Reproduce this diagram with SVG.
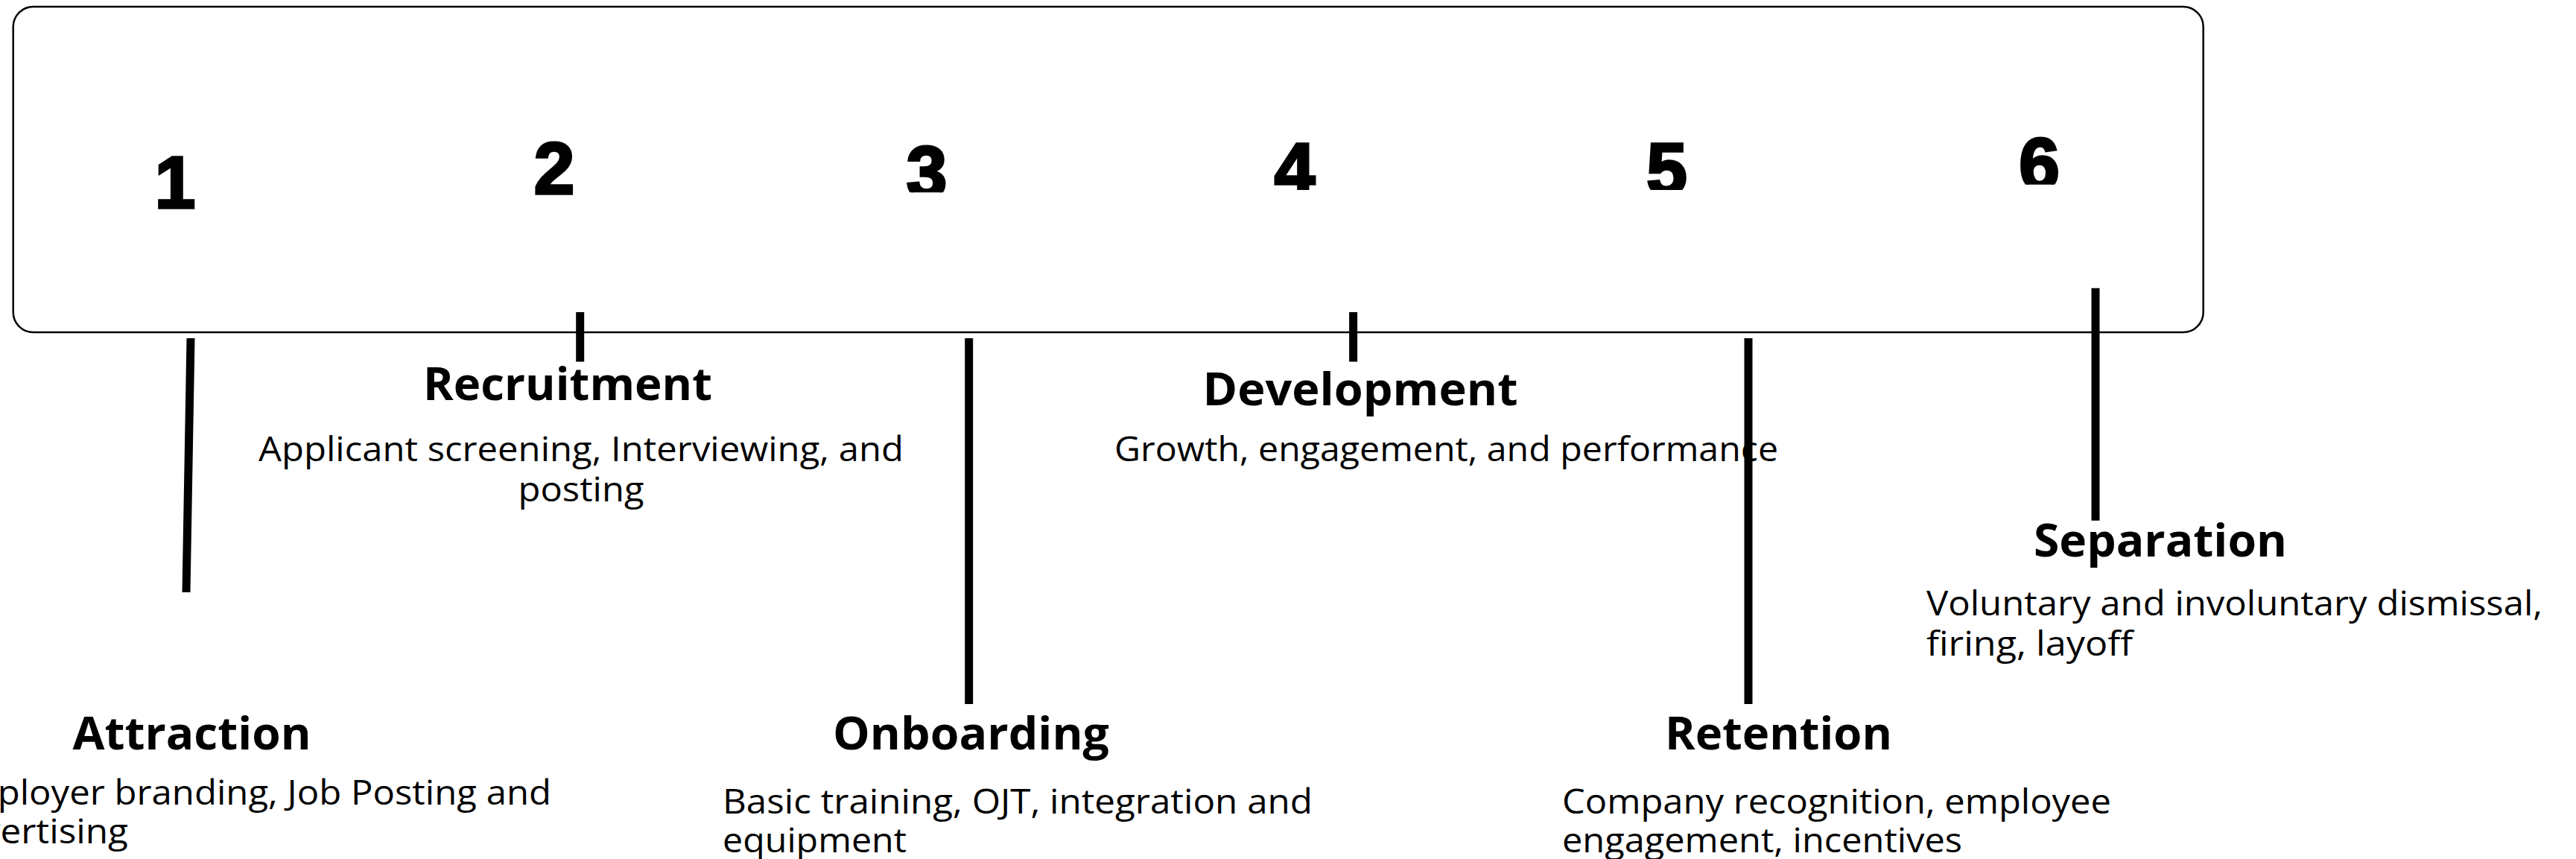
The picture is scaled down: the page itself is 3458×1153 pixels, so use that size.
<svg xmlns="http://www.w3.org/2000/svg" width="3458" height="1153" viewBox="0 0 3458 1153">
  <style>
    .frame { fill: #ffffff; stroke: #000000; stroke-width: 2.5; }
    .num { font-family: "Liberation Sans", Arial, sans-serif; font-weight: 700; font-size: 98px; fill: #000000; stroke: #000000; stroke-width: 3.5; stroke-linejoin: miter; text-anchor: middle; }
    .title { font-family: "Open Sans", "Liberation Sans", sans-serif; font-weight: 700; font-size: 61px; fill: #000000; text-anchor: middle; }
    .desc { font-family: "Open Sans", "Liberation Sans", sans-serif; font-weight: 400; font-size: 45px; fill: #000000; }
    .mid { text-anchor: middle; }
    .tick { stroke: #000000; stroke-width: 11; fill: none; }
  </style>
  <defs>
    <!-- the lower part of some figures is trimmed by their text boxes -->
    <clipPath id="clip-3"><rect x="1180" y="150" width="120" height="108.3"/></clipPath>
    <clipPath id="clip-4"><rect x="1680" y="150" width="120" height="105"/></clipPath>
    <clipPath id="clip-5"><rect x="2180" y="150" width="120" height="105"/></clipPath>
    <clipPath id="clip-6"><rect x="2680" y="150" width="120" height="97.7"/></clipPath>
  </defs>
  <rect width="3458" height="1153" fill="#ffffff"/>

  <!-- timeline band with step numbers -->
  <g id="timeline">
    <rect class="frame" x="17.7" y="9" width="2940" height="437" rx="27" ry="27"/>
    <text id="num-1" class="num" x="235" y="278.5">1</text>
    <text id="num-2" class="num" x="744" y="260.2">2</text>
    <text id="num-3" class="num" x="1244" y="264.5" clip-path="url(#clip-3)">3</text>
    <text id="num-4" class="num" x="1738" y="260.5" clip-path="url(#clip-4)">4</text>
    <text id="num-5" class="num" x="2237.5" y="260.5" clip-path="url(#clip-5)">5</text>
    <text id="num-6" class="num" x="2737.5" y="253.5" clip-path="url(#clip-6)">6</text>
  </g>

  <!-- leader lines from the band to each stage -->
  <g id="connectors">
    <line class="tick" x1="256" y1="454" x2="250" y2="795"/>
    <line class="tick" x1="778.7" y1="419" x2="778.7" y2="485.5"/>
    <line class="tick" x1="1300.7" y1="454" x2="1300.7" y2="945"/>
    <line class="tick" x1="1816.6" y1="419" x2="1816.6" y2="485.5"/>
    <line class="tick" x1="2347" y1="454" x2="2347" y2="945"/>
    <line class="tick" x1="2813" y1="386.7" x2="2813" y2="698.7"/>
  </g>

  <g id="stage-attraction">
    <text class="title" x="257.5" y="1006" textLength="320" lengthAdjust="spacingAndGlyphs">Attraction</text>
    <text class="desc" x="-76" y="1080" textLength="816" lengthAdjust="spacingAndGlyphs">Employer branding, Job Posting and</text>
    <text class="desc" x="-82" y="1132" textLength="254" lengthAdjust="spacingAndGlyphs">advertising</text>
  </g>

  <g id="stage-recruitment">
    <text class="title" x="762" y="537" textLength="388" lengthAdjust="spacingAndGlyphs">Recruitment</text>
    <text class="desc mid" x="780" y="619" textLength="866" lengthAdjust="spacingAndGlyphs">Applicant screening, Interviewing, and</text>
    <text class="desc mid" x="780" y="673" textLength="169" lengthAdjust="spacingAndGlyphs">posting</text>
  </g>

  <g id="stage-onboarding">
    <text class="title" x="1303.5" y="1006" textLength="371" lengthAdjust="spacingAndGlyphs">Onboarding</text>
    <text class="desc" x="970" y="1092" textLength="792" lengthAdjust="spacingAndGlyphs">Basic training, OJT, integration and</text>
    <text class="desc" x="970" y="1144" textLength="247" lengthAdjust="spacingAndGlyphs">equipment</text>
  </g>

  <g id="stage-development">
    <text class="title" x="1826" y="544" textLength="423" lengthAdjust="spacingAndGlyphs">Development</text>
    <text class="desc" x="1496" y="619" textLength="891" lengthAdjust="spacingAndGlyphs">Growth, engagement, and performance</text>
  </g>

  <g id="stage-retention">
    <text class="title" x="2387.5" y="1006" textLength="305" lengthAdjust="spacingAndGlyphs">Retention</text>
    <text class="desc" x="2097" y="1092" textLength="737" lengthAdjust="spacingAndGlyphs">Company recognition, employee</text>
    <text class="desc" x="2097" y="1144" textLength="537" lengthAdjust="spacingAndGlyphs">engagement, incentives</text>
  </g>

  <g id="stage-separation">
    <text class="title" x="2900" y="747" textLength="340" lengthAdjust="spacingAndGlyphs">Separation</text>
    <text class="desc" x="2586" y="825.5" textLength="827" lengthAdjust="spacingAndGlyphs">Voluntary and involuntary dismissal,</text>
    <text class="desc" x="2586" y="879.5" textLength="277" lengthAdjust="spacingAndGlyphs">firing, layoff</text>
  </g>
</svg>
